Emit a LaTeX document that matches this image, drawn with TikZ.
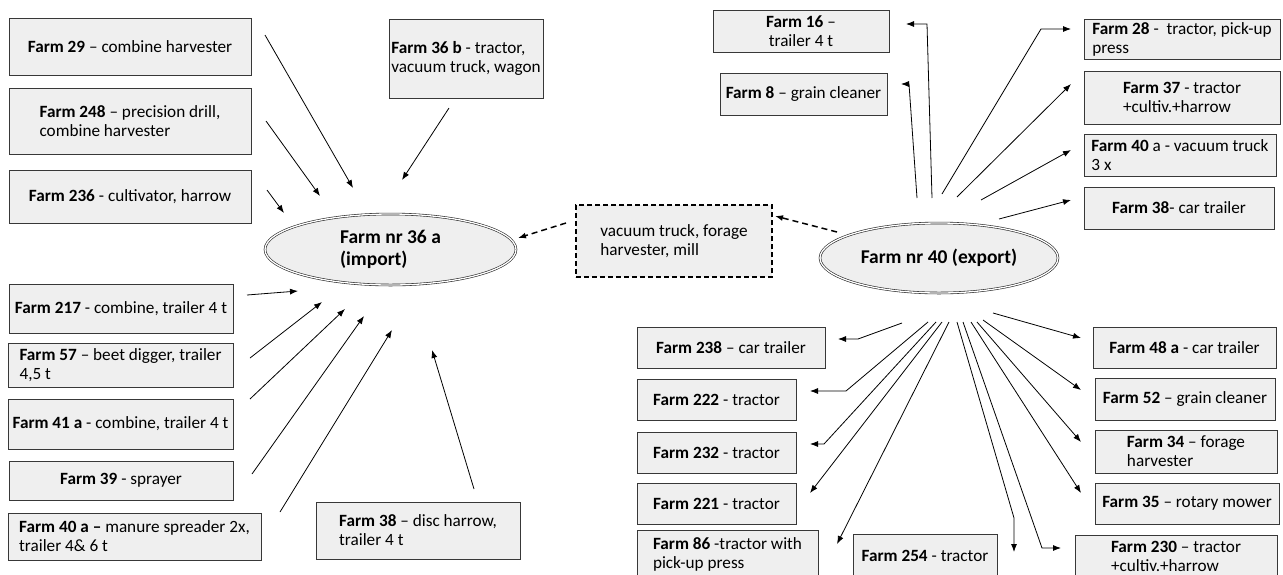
\documentclass[tikz,border=0pt]{standalone}
\usepackage{fontspec}
\setmainfont{Carlito}
\usetikzlibrary{arrows.meta,shapes.geometric,positioning}
\definecolor{boxfill}{RGB}{239,239,239}
\definecolor{boxline}{RGB}{56,56,56}
\newcommand{\fid}[1]{\textbf{#1}}

\begin{document}
\begin{tikzpicture}[
    x=1pt, y=-1pt,
    font=\fontsize{17.2}{19}\selectfont,
    farm/.style 2 args={draw=boxline, fill=boxfill, line width=1pt, align=left,
        inner sep=1pt, minimum width=#1pt, minimum height=#2pt},
    hub/.style 2 args={ellipse, draw=black!85, double, double distance=1.3pt,
        line width=0.6pt, fill=boxfill, align=left, inner sep=0pt,
        font=\fontsize{19.5}{22}\selectfont\bfseries, minimum width=#1pt, minimum height=#2pt},
    pool/.style={draw=black, fill=boxfill, line width=1.3pt, dash pattern=on 5pt off 3pt,
        align=left, minimum width=196pt, minimum height=72pt},
    arr/.style={-{Latex[length=8pt,width=6pt]}, line width=0.8pt},
    dasharr/.style={arr, line width=1.5pt, dash pattern=on 6pt off 4pt}
]
\useasboundingbox (0,0) rectangle (1283,574);

% Hubs
\node[hub={251}{71}] (imp) at (390.5,249.5) {Farm nr 36 a\\(import)};
\node[hub={238}{70}] (exp) at (939,258) {Farm nr 40 (export)};
\node[pool] (pool) at (674,241) {vacuum truck, forage\\harvester, mill};

% Farms lending to 36 a
\node[farm={242}{57}] (f29) at (130,46.5) {\fid{Farm 29} – combine harvester};
\node[farm={242}{66}] (f248) at (130,121) {\fid{Farm 248} – precision drill,\\combine harvester};
\node[farm={242}{53}] (f236) at (130,196.5) {\fid{Farm 236} - cultivator, harrow};
\node[farm={154}{79}] (f36b) at (466,58.5) {\fid{Farm 36 b} - tractor,\\vacuum truck, wagon};
\node[farm={224}{49}] (f217) at (121,308.5) {\fid{Farm 217} - combine, trailer 4 t};
\node[farm={225}{44}] (f57) at (120.5,365) {\fid{Farm 57} – beet digger, trailer\\4,5 t};
\node[farm={225}{50}] (f41a) at (120.5,424) {\fid{Farm 41 a} - combine, trailer 4 t};
\node[farm={224}{39}] (f39) at (121,480.5) {\fid{Farm 39} - sprayer};
\node[farm={253}{47}] (f40a) at (134.5,536.5) {\fid{Farm 40 a –} manure spreader 2x,\\trailer 4\& 6 t};
\node[farm={204}{57}] (f38b) at (418,530.5) {\fid{Farm 38} – disc harrow,\\trailer 4 t};

% Farms borrowing from 40
\node[farm={176}{42}, align=center] (f16) at (801,31) {\fid{Farm 16} –\\trailer 4 t};
\node[farm={167}{42}] (f8) at (803.5,94) {\fid{Farm 8} – grain cleaner};
\node[farm={196}{40}] (f28) at (1182,39) {\fid{Farm 28} -~ tractor, pick-up\\press};
\node[farm={196}{53}] (f37) at (1182,97.5) {\fid{Farm 37} - tractor\\+cultiv.+harrow};
\node[farm={192}{42}] (f40r) at (1180,155) {\fid{Farm 40} a - vacuum truck\\3 x};
\node[farm={190}{42}] (f38r) at (1179,208) {\fid{Farm 38}- car trailer};
\node[farm={188}{41}] (f238) at (731,347.5) {\fid{Farm 238} – car trailer};
\node[farm={159}{41}] (f222) at (716.5,399.5) {\fid{Farm 222} - tractor};
\node[farm={159}{41}] (f232) at (716.5,452.5) {\fid{Farm 232} - tractor};
\node[farm={159}{41}] (f221) at (716.5,503.5) {\fid{Farm 221} - tractor};
\node[farm={181}{48}] (f86) at (727.5,554) {\fid{Farm 86} -tractor with\\pick-up press};
\node[farm={144}{44}] (f254) at (925,556) {\fid{Farm 254} - tractor};
\node[farm={202}{43}] (f230) at (1176,556.5) {\fid{Farm 230} – tractor\\+cultiv.+harrow};
\node[farm={183}{41}] (f48a) at (1184.5,347.5) {\fid{Farm 48 a} - car trailer};
\node[farm={180}{42}] (f52) at (1185,399) {\fid{Farm 52} – grain cleaner};
\node[farm={182}{43}] (f34) at (1186,451.5) {\fid{Farm 34} – forage\\harvester};
\node[farm={184}{41}] (f35) at (1187,503.5) {\fid{Farm 35} – rotary mower};

% Straight arrows
\foreach \n/\tx/\ty/\hx/\hy in {
    f29/265/35/353/188, f248/266/121/320/196, f236/267/190/284/213,
    f36b/449/108/402/180, f217/247/295/298/291, f57/250/358/322/302,
    f41a/250/399/345/309, f39/252/474/364/316, f40a/280/512/392/330,
    f38b/474/489/432/350,
    f37/957/197/1071/84, f40r/981/200/1071/150, f38r/999/219/1071/200,
    f221/942/322/810/493, f86/949/322/837/544, f35/971/322/1081/493,
    f34/977/322/1081/442, f52/983/320/1081/390, f48a/993/313/1081/338} {
    \coordinate (\n-tail) at (\tx,\ty);
    \coordinate (\n-head) at (\hx,\hy);
    \draw[arr] (\n-tail) -- (\n-head);
}

% Bent arrows
\foreach \n/\tx/\ty/\bx/\by/\hx/\hy in {
    f16/932/198/927/24/906/24, f8/917/198/909/84/901/84,
    f28/942/194/1041/29/1071/29, f238/902/323/858/339/838/339,
    f222/928/322/846/391/810/391, f232/936/322/824/444/810/444,
    f254/957/322/1014/518/1014/552, f230/963/322/1042/548/1061/548} {
    \coordinate (\n-tail) at (\tx,\ty);
    \coordinate (\n-bend) at (\bx,\by);
    \coordinate (\n-head) at (\hx,\hy);
    \draw[arr] (\n-tail) -- (\n-bend) -- (\n-head);
}

% Dashed exchange
\coordinate (pool-out) at (566,223);
\coordinate (imp-in) at (518,238);
\coordinate (exp-out) at (837,232);
\coordinate (pool-in) at (775,216);
\draw[dasharr] (pool-out) -- (imp-in);
\draw[dasharr] (exp-out) -- (pool-in);

\end{tikzpicture}
\end{document}
